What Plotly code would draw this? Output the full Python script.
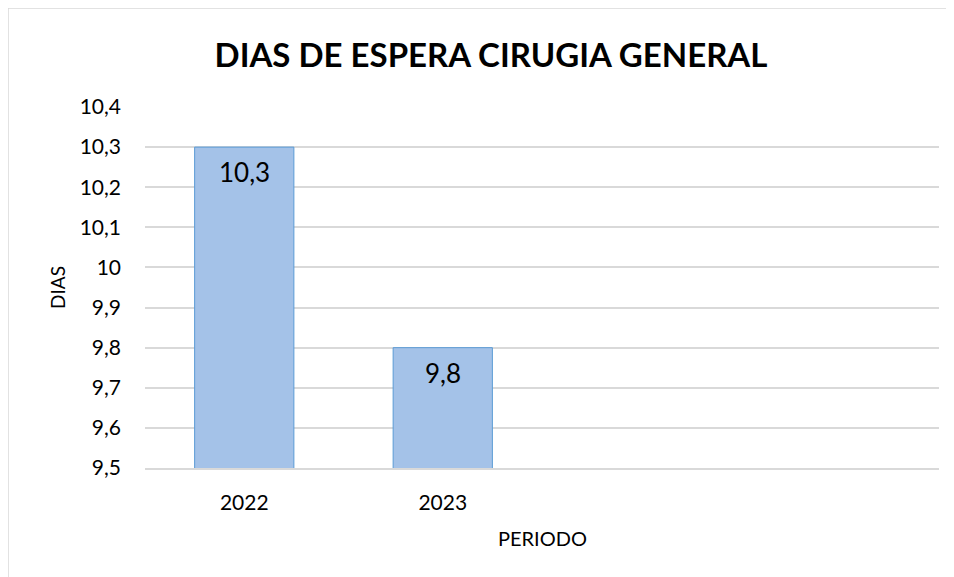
import plotly.graph_objects as go

# Data
periods = ["2022", "2023"]
dias = [10.3, 9.8]
y_ticks = [9.5, 9.6, 9.7, 9.8, 9.9, 10.0, 10.1, 10.2, 10.3, 10.4]
y_tick_labels = ["9,5", "9,6", "9,7", "9,8", "9,9", "10", "10,1", "10,2", "10,3", "10,4"]
bar_labels = ["10,3", "9,8"]

title_text = "DIAS DE ESPERA CIRUGIA GENERAL"
x_title = "PERIODO"
y_title = "DIAS"

OFF = 8  # page body margin
W, H = 954 - OFF, 577 - OFF
L, T = 145 - OFF, 107 - OFF
pw, ph = 794, 361
R, B = W - L - pw, H - T - ph


def px_x(p):
    return (p - OFF - L) / pw


def px_y(p):
    return (H - B - (p - OFF)) / ph


FONT = "Lato"

fig = go.Figure()
fig.add_trace(go.Bar(
    x=periods, y=dias,
    marker=dict(color="#A4C2E8", line=dict(color="#5B9BD5", width=1)),
    width=0.5,
    hoverinfo="skip",
))

for i, (v, t) in enumerate(zip(dias, bar_labels)):
    fig.add_annotation(x=i, y=v, xref="x", yref="y", text=t, showarrow=False,
                       yanchor="middle", yshift=-25,
                       font=dict(family=FONT, size=26, color="#000000"))

fig.add_annotation(xref="paper", yref="paper", x=px_x(542), y=px_y(538), text=x_title,
                   showarrow=False, xanchor="center", yanchor="middle",
                   font=dict(family=FONT, size=20, color="#000000"))
fig.add_annotation(xref="paper", yref="paper", x=px_x(57), y=px_y(288), text=y_title,
                   textangle=-90, showarrow=False, xanchor="center", yanchor="middle",
                   font=dict(family=FONT, size=19, color="#000000"))

# chart area border
fig.add_shape(type="rect", xref="paper", yref="paper",
              x0=px_x(8), x1=px_x(1000), y0=px_y(8), y1=px_y(620),
              line=dict(color="#D9D9D9", width=1.5), fillcolor="rgba(0,0,0,0)", layer="below")

fig.update_layout(
    width=W, height=H,
    margin=dict(l=L, r=R, t=T, b=B),
    paper_bgcolor="white", plot_bgcolor="white",
    separators=",.",
    showlegend=False,
    title=dict(text="<b>" + title_text + "</b>", x=(491 - OFF) / W, xanchor="center",
               y=(H - (55 - OFF)) / H, yanchor="middle",
               font=dict(family=FONT, size=33, color="#000000")),
    xaxis=dict(type="category", range=[-0.5, 3.5], showgrid=False,
               showline=True, linecolor="#D9D9D9", linewidth=1.5,
               ticks="", ticklabelstandoff=15,
               tickfont=dict(family=FONT, size=21, color="#000000")),
    yaxis=dict(range=[9.5, 10.4], tickvals=y_ticks, ticktext=y_tick_labels,
               showgrid=True, gridcolor="#D9D9D9", gridwidth=1.5,
               zeroline=False, showline=False, ticks="", ticklabelstandoff=23,
               tickfont=dict(family=FONT, size=21, color="#000000")),
)

fig.write_html("out.html")
